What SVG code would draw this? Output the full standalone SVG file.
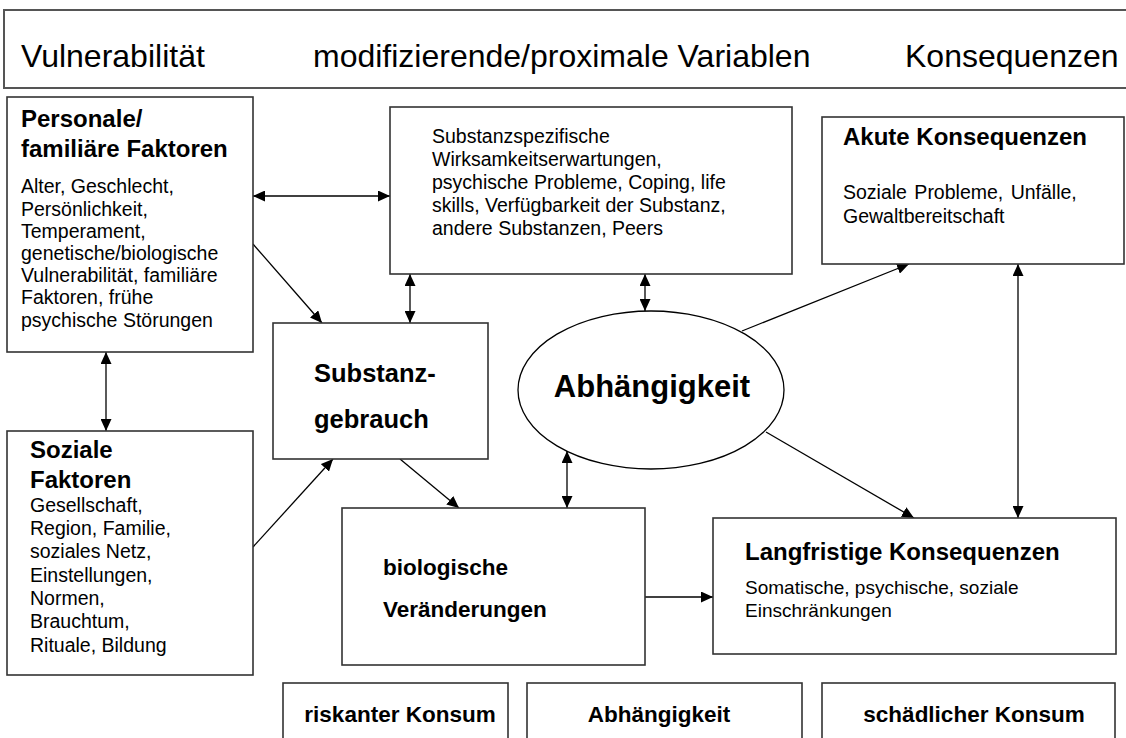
<svg xmlns="http://www.w3.org/2000/svg" width="1126" height="738" viewBox="0 0 1126 738">
<style>
text{font-family:"Liberation Sans",Arial,sans-serif;fill:#000}
.hd{font-size:32px}
.t{font-size:24px;font-weight:bold}
.b{font-size:19.5px}
.box{fill:#fff;stroke:#333;stroke-width:1.6}
.ln{stroke:#000;stroke-width:1.3;fill:none}
.a1{marker-end:url(#ah)}
.a2{marker-end:url(#ah);marker-start:url(#ah)}
</style>
<defs>
<marker id="ah" viewBox="0 0 12 11" refX="12" refY="5.5" markerWidth="12" markerHeight="11" markerUnits="userSpaceOnUse" orient="auto-start-reverse">
<path d="M0,0 L12,5.5 L0,11 z" fill="#000"/>
</marker>
</defs>
<rect width="1126" height="738" fill="#fff"/>
<g id="header">
<rect x="4" y="10" width="1130" height="78" fill="#fff" stroke="#555" stroke-width="2"/>
<text class="hd" x="21" y="67">Vulnerabilität</text>
<text class="hd" x="313" y="67">modifizierende/proximale Variablen</text>
<text class="hd" x="905" y="67">Konsequenzen</text>
</g>
<g id="connectors">
<line class="ln a2" x1="253" y1="196" x2="390" y2="196"/>
<line class="ln a1" x1="253" y1="244" x2="322" y2="323"/>
<line class="ln a2" x1="410" y1="274" x2="410" y2="323"/>
<line class="ln a2" x1="645" y1="274" x2="645" y2="311"/>
<line class="ln a1" x1="742" y1="331" x2="909" y2="264"/>
<line class="ln a2" x1="1018" y1="264" x2="1018" y2="518"/>
<line class="ln a1" x1="766" y1="432" x2="914" y2="518"/>
<line class="ln a2" x1="106" y1="352" x2="106" y2="431"/>
<line class="ln a1" x1="253" y1="547" x2="333" y2="459"/>
<line class="ln a1" x1="400" y1="459" x2="459" y2="508"/>
<line class="ln a2" x1="567" y1="451" x2="567" y2="508"/>
<line class="ln a1" x1="645" y1="597" x2="713" y2="597"/>
</g>
<g id="personale">
<rect class="box" x="7" y="97" width="246" height="255"/>
<text class="t" x="21" y="127">Personale/</text>
<text class="t" x="21" y="157">familiäre Faktoren</text>
<text class="b" x="21" y="193">Alter, Geschlecht,</text>
<text class="b" x="21" y="215.5">Persönlichkeit,</text>
<text class="b" x="21" y="237.7">Temperament,</text>
<text class="b" x="21" y="259.9">genetische/biologische</text>
<text class="b" x="21" y="282.1">Vulnerabilität, familiäre</text>
<text class="b" x="21" y="304.3">Faktoren, frühe</text>
<text class="b" x="21" y="326.5">psychische Störungen</text>
</g>
<g id="soziale">
<rect class="box" x="7" y="431" width="246" height="244"/>
<text class="t" x="30" y="458">Soziale</text>
<text class="t" x="30" y="488">Faktoren</text>
<text class="b" x="30" y="511.7">Gesellschaft,</text>
<text class="b" x="30" y="535">Region, Familie,</text>
<text class="b" x="30" y="558.3">soziales Netz,</text>
<text class="b" x="30" y="581.7">Einstellungen,</text>
<text class="b" x="30" y="605">Normen,</text>
<text class="b" x="30" y="628.3">Brauchtum,</text>
<text class="b" x="30" y="651.7">Rituale, Bildung</text>
</g>
<g id="proximal">
<rect class="box" x="390" y="107" width="402" height="167"/>
<text class="b" x="432" y="143">Substanzspezifische</text>
<text class="b" x="432" y="166">Wirksamkeitserwartungen,</text>
<text class="b" x="432" y="189">psychische Probleme, Coping, life</text>
<text class="b" x="432" y="212">skills, Verfügbarkeit der Substanz,</text>
<text class="b" x="432" y="235">andere Substanzen, Peers</text>
</g>
<g id="akute">
<rect class="box" x="822" y="117" width="302" height="147"/>
<text class="t" x="843" y="145">Akute Konsequenzen</text>
<text class="b" x="843" y="199" word-spacing="2">Soziale Probleme, Unfälle,</text>
<text class="b" x="843" y="222.5">Gewaltbereitschaft</text>
</g>
<g id="substanzgebrauch">
<rect class="box" x="273" y="323" width="215" height="136"/>
<text x="314" y="382" style="font-size:25.5px;font-weight:bold">Substanz-</text>
<text x="314" y="428" style="font-size:25.5px;font-weight:bold">gebrauch</text>
</g>
<g id="abhaengigkeit">
<ellipse cx="651" cy="390" rx="133" ry="79" fill="#fff" stroke="#000" stroke-width="1.3"/>
<text x="652" y="397" text-anchor="middle" style="font-size:31px;font-weight:bold">Abhängigkeit</text>
</g>
<g id="biologisch">
<rect class="box" x="342" y="508" width="303" height="157"/>
<text x="383" y="575" style="font-size:22.5px;font-weight:bold">biologische</text>
<text x="383" y="617" style="font-size:22.5px;font-weight:bold">Veränderungen</text>
</g>
<g id="langfristig">
<rect class="box" x="713" y="518" width="403" height="136"/>
<text class="t" x="745" y="560">Langfristige Konsequenzen</text>
<text x="745" y="594" style="font-size:19px">Somatische, psychische, soziale</text>
<text x="745" y="617" style="font-size:19px">Einschränkungen</text>
</g>
<g id="riskant">
<rect class="box" x="283" y="683" width="225" height="70"/>
<text x="400" y="722" text-anchor="middle" style="font-size:22.5px;font-weight:bold">riskanter Konsum</text>
</g>
<g id="abhaengigkeit2">
<rect class="box" x="527" y="683" width="275" height="70"/>
<text x="659" y="722" text-anchor="middle" style="font-size:22.5px;font-weight:bold">Abhängigkeit</text>
</g>
<g id="schaedlich">
<rect class="box" x="822" y="683" width="293" height="70"/>
<text x="974" y="722" text-anchor="middle" style="font-size:22.5px;font-weight:bold">schädlicher Konsum</text>
</g>
</svg>
